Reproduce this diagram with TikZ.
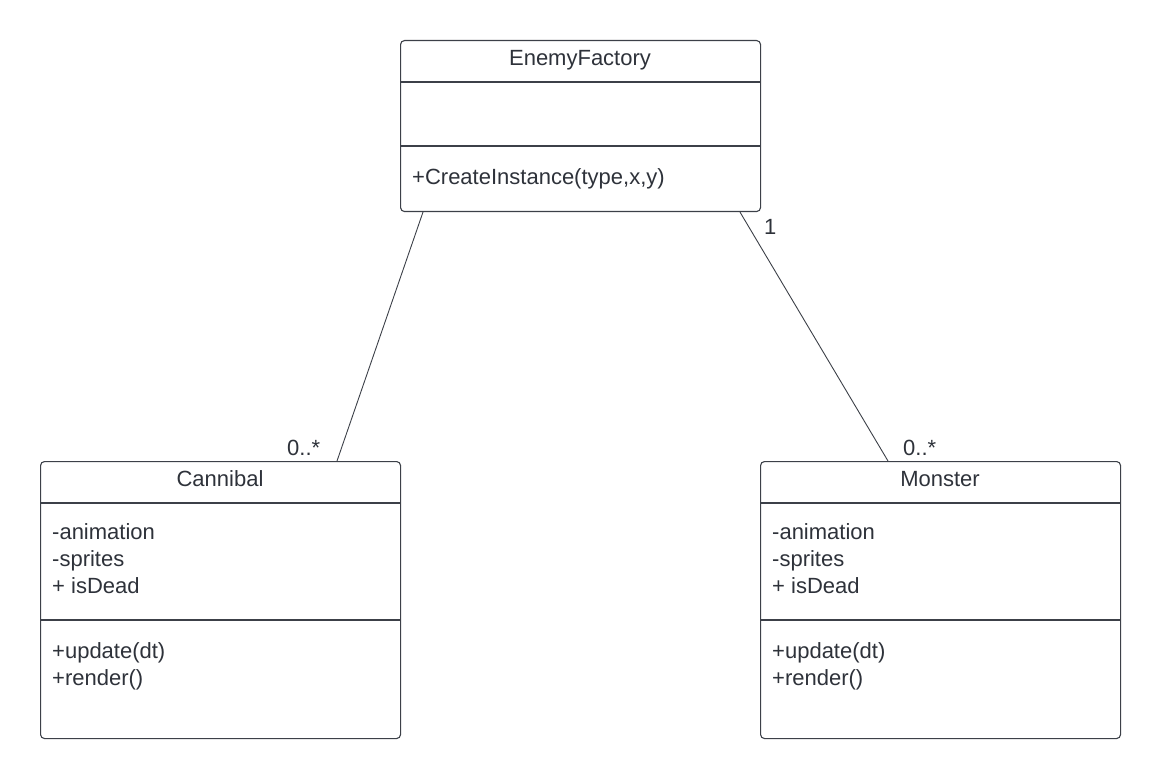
\documentclass[tikz,border=0pt]{standalone}
\usepackage{fontspec}
\setmainfont{Liberation Sans}
\usetikzlibrary{calc}
\definecolor{ink}{RGB}{46,50,58}
\definecolor{edge}{RGB}{60,64,72}
\begin{document}
\begin{tikzpicture}[x=1pt,y=-1pt,
  classbox/.style={draw=edge, line width=1.1pt, rounded corners=4pt, fill=white, minimum width=360pt, inner sep=0pt, anchor=north west},
  sepline/.style={draw=edge, line width=1.1pt},
  assoc/.style={draw=edge, line width=0.9pt},
  txt/.style={text=ink, font=\fontsize{22}{27}\selectfont, inner sep=0pt, anchor=base west},
  ttl/.style={text=ink, font=\fontsize{22}{27}\selectfont, inner sep=0pt, anchor=base},
  mult/.style={text=ink, font=\fontsize{22}{27}\selectfont, inner sep=0pt, anchor=base west}]
\useasboundingbox (0,0) rectangle (1160,778);
% boxes
\node[classbox, minimum height=171pt] (ef) at (400,40) {};
\node[classbox, minimum height=277pt] (can) at (40,461) {};
\node[classbox, minimum height=277pt] (mon) at (760,461) {};
% separators
\draw[sepline] ($(ef.north west)+(0,42)$) -- ($(ef.north east)+(0,42)$);
\draw[sepline] ($(ef.north west)+(0,106)$) -- ($(ef.north east)+(0,106)$);
\draw[sepline] ($(can.north west)+(0,42)$) -- ($(can.north east)+(0,42)$);
\draw[sepline] ($(can.north west)+(0,159)$) -- ($(can.north east)+(0,159)$);
\draw[sepline] ($(mon.north west)+(0,42)$) -- ($(mon.north east)+(0,42)$);
\draw[sepline] ($(mon.north west)+(0,159)$) -- ($(mon.north east)+(0,159)$);
% texts EnemyFactory
\node[ttl] (eft) at (580,66) {EnemyFactory};
\node[txt] (efm) at (412,185) {+CreateInstance(type,x,y)};
% Cannibal
\node[ttl] (cant) at (220,486) {Cannibal};
\node[txt] (cana1) at (52,539) {-animation};
\node[txt] (cana2) at (52,566) {-sprites};
\node[txt] (cana3) at (52,593) {+ isDead};
\node[txt] (canm1) at (52,658) {+update(dt)};
\node[txt] (canm2) at (52,685) {+render()};
% Monster
\node[ttl] (mont) at (940,486) {Monster};
\node[txt] (mona1) at (772,539) {-animation};
\node[txt] (mona2) at (772,566) {-sprites};
\node[txt] (mona3) at (772,593) {+ isDead};
\node[txt] (monm1) at (772,658) {+update(dt)};
\node[txt] (monm2) at (772,685) {+render()};
% connectors
\draw[assoc] ($(ef.south west)+(23,0)$) -- ($(can.north west)+(297,0)$);
\draw[assoc] ($(ef.south west)+(340,0)$) -- ($(mon.north west)+(128,0)$);
% multiplicities
\node[mult] (m1) at (287,455) {0..*};
\node[mult] (m2) at (764,235) {1};
\node[mult] (m3) at (903,455) {0..*};
\end{tikzpicture}
\end{document}
